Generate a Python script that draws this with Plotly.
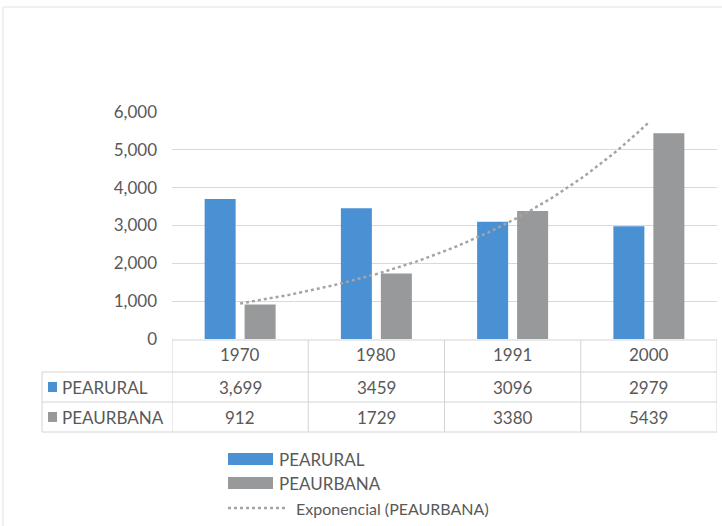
import numpy as np
import plotly.graph_objects as go

# ---- data ----
years = ["1970", "1980", "1991", "2000"]
pea_rural = [3699, 3459, 3096, 2979]
pea_urbana = [912, 1729, 3380, 5439]
rural_labels = ["3,699", "3459", "3096", "2979"]
urbana_labels = ["912", "1729", "3380", "5439"]
y_ticks = [0, 1000, 2000, 3000, 4000, 5000, 6000]
series_names = ["PEARURAL", "PEAURBANA"]
trend_name = "Exponencial (PEAURBANA)"

# ---- styling ----
W, H = 722, 526
L, R, T, B = 172, 5, 112, 187
BLUE = "#4a91d3"
GRAY = "#97999a"
TREND = "#a3a4a5"
TEXT = "#595959"
GRID = "#d9d9d9"
TABLE = "#d4d4d4"
FONT = "Lato"
FS = 17

plot_w = W - L - R
plot_h = H - T - B


def px(xp):
    return (xp - L) / plot_w


def py(yp):
    return (H - B - yp) / plot_h


xi = list(range(len(years)))

fig = go.Figure()
fig.add_trace(go.Bar(x=xi, y=pea_rural, name=series_names[0], marker_color=BLUE,
                     marker_line_width=0, showlegend=False))
fig.add_trace(go.Bar(x=xi, y=pea_urbana, name=series_names[1], marker_color=GRAY,
                     marker_line_width=0, showlegend=False))

# exponential trendline fitted (like Excel) on PEAURBANA
idx = np.arange(1, len(pea_urbana) + 1)
b, a = np.polyfit(idx, np.log(pea_urbana), 1)
tx = np.linspace(1, len(pea_urbana), 80)
ty = np.exp(a + b * tx)
fig.add_trace(go.Scatter(x=tx - 1, y=ty, mode="lines", name=trend_name,
                         line=dict(color=TREND, width=2.5, dash="dot"),
                         showlegend=False))

shapes = []
annotations = []

# frame of the chart area
shapes.append(dict(type="rect", xref="paper", yref="paper",
                   x0=px(3), x1=px(W + 5), y0=py(H + 5), y1=py(7),
                   line=dict(color="#e2e2e2", width=1), layer="below"))

# data table lines
line_style = dict(color=TABLE, width=1)
for yp, x0 in [(340, 172), (372, 42), (402, 42), (432, 42)]:
    shapes.append(dict(type="line", xref="paper", yref="paper",
                       x0=px(x0), x1=px(717), y0=py(yp), y1=py(yp), line=line_style))
shapes.append(dict(type="line", xref="paper", yref="paper",
                   x0=px(42), x1=px(42), y0=py(372), y1=py(432), line=line_style))
for k in range(len(years) + 1):
    shapes.append(dict(type="line", xref="x", yref="paper",
                       x0=k - 0.5, x1=k - 0.5, y0=py(340), y1=py(432), line=line_style))

row_y = [354, 387, 417]
tfont = dict(family=FONT, size=FS, color=TEXT)
for k, yr in enumerate(years):
    for txt, yp in [(yr, row_y[0]), (rural_labels[k], row_y[1]), (urbana_labels[k], row_y[2])]:
        annotations.append(dict(x=k, y=py(yp), xref="x", yref="paper", text=txt,
                                xanchor="center", yanchor="middle",
                                showarrow=False, font=tfont))

# row headers with keys
for name, col, yp in [(series_names[0], BLUE, row_y[1]), (series_names[1], GRAY, row_y[2])]:
    shapes.append(dict(type="rect", xref="paper", yref="paper",
                       x0=px(48), x1=px(57), y0=py(yp + 5), y1=py(yp - 5),
                       fillcolor=col, line_width=0))
    annotations.append(dict(x=px(60), y=py(yp), xref="paper", yref="paper", text=name,
                            xanchor="left", yanchor="middle", showarrow=False, font=tfont))

# legend (drawn)
leg_y = [459, 483, 508]
for name, col, yp in [(series_names[0], BLUE, leg_y[0]), (series_names[1], GRAY, leg_y[1])]:
    shapes.append(dict(type="rect", xref="paper", yref="paper",
                       x0=px(228), x1=px(273), y0=py(yp + 6), y1=py(yp - 6),
                       fillcolor=col, line_width=0))
    annotations.append(dict(x=px(277), y=py(yp), xref="paper", yref="paper", text=name,
                            xanchor="left", yanchor="middle", showarrow=False, font=tfont))
shapes.append(dict(type="line", xref="paper", yref="paper",
                   x0=px(228), x1=px(288), y0=py(leg_y[2]), y1=py(leg_y[2]),
                   line=dict(color=TREND, width=2.5, dash="dot")))
annotations.append(dict(x=px(294), y=py(leg_y[2]), xref="paper", yref="paper", text=trend_name,
                        xanchor="left", yanchor="middle", showarrow=False,
                        font=dict(family=FONT, size=FS - 1, color=TEXT)))

fig.update_layout(
    width=W, height=H,
    margin=dict(l=L, r=R, t=T, b=B, pad=0),
    paper_bgcolor="white", plot_bgcolor="white",
    barmode="group", bargap=0.413, bargroupgap=0.225,
    showlegend=False,
    shapes=shapes, annotations=annotations,
    xaxis=dict(range=[-0.5, len(years) - 0.5], showticklabels=False, showgrid=False,
               zeroline=False, showline=False, fixedrange=True),
    yaxis=dict(range=[0, 6000], tickvals=y_ticks, tickformat=",d", showgrid=True,
               gridcolor=GRID, gridwidth=1, zeroline=False, showline=False,
               ticklabelstandoff=14, tickfont=dict(family=FONT, size=FS, color=TEXT)),
)

fig.write_html("out.html", config={"displayModeBar": False},
               post_script="document.body.style.margin='0';")
